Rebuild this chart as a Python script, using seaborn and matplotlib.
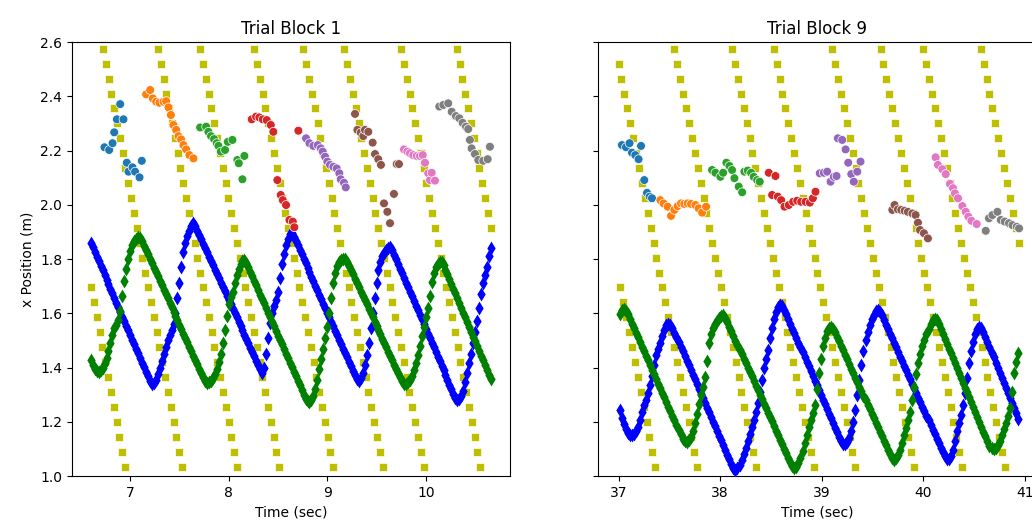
import numpy as np
import pandas as pd
import matplotlib
matplotlib.use("Agg")
import matplotlib.pyplot as plt
from matplotlib.ticker import MultipleLocator
import seaborn as sns

# ---------------- data ----------------
titles = ["Trial Block 1", "Trial Block 9"]

# hand (blue) and partner (green) positions, one value per sample
b1_start, b9_start = 6.60, 37.01
sample_step = 0.02

b1_blue = [1.860, 1.843, 1.826, 1.809, 1.792, 1.775, 1.758, 1.741, 1.724, 1.707,
           1.690, 1.673, 1.656, 1.639, 1.622, 1.605, 1.588, 1.571, 1.554, 1.537,
           1.520, 1.503, 1.486, 1.469, 1.452, 1.435, 1.418, 1.401, 1.384, 1.367, 1.350,
           1.338, 1.342, 1.355, 1.375, 1.40, 1.425, 1.45, 1.475, 1.50, 1.52, 1.54,
           1.56, 1.60, 1.655, 1.71, 1.77, 1.825, 1.86, 1.885, 1.905, 1.922, 1.932,
           1.92, 1.905, 1.889, 1.873, 1.857, 1.841, 1.825, 1.809, 1.793, 1.777, 1.761,
           1.745, 1.729, 1.713, 1.697, 1.681, 1.665, 1.649, 1.633, 1.617, 1.601, 1.585,
           1.569, 1.553, 1.537, 1.521, 1.505, 1.489, 1.473, 1.457, 1.441, 1.425, 1.409, 1.393,
           1.38, 1.40, 1.45, 1.51, 1.565, 1.60, 1.625, 1.65, 1.68, 1.73, 1.78, 1.82,
           1.85, 1.875, 1.892, 1.895,
           1.882, 1.866, 1.85, 1.833, 1.817, 1.80, 1.784, 1.767, 1.751, 1.734, 1.718,
           1.701, 1.685, 1.668, 1.652, 1.635, 1.619, 1.602, 1.586, 1.569, 1.553, 1.536,
           1.52, 1.503, 1.487, 1.47, 1.454, 1.437, 1.421, 1.404, 1.388, 1.371, 1.356, 1.35,
           1.36, 1.38, 1.41, 1.445, 1.49, 1.545, 1.60, 1.655, 1.71, 1.76, 1.79, 1.81,
           1.823, 1.833, 1.841, 1.845,
           1.833, 1.816, 1.799, 1.782, 1.765, 1.748, 1.731, 1.713, 1.696, 1.679, 1.662,
           1.645, 1.628, 1.611, 1.594, 1.577, 1.56, 1.542, 1.525, 1.508, 1.491, 1.474,
           1.457, 1.44, 1.423, 1.406, 1.389, 1.371, 1.354, 1.337, 1.32, 1.303, 1.288, 1.282,
           1.285, 1.295, 1.315, 1.345, 1.38, 1.415, 1.45, 1.49, 1.53, 1.57, 1.62, 1.67,
           1.71, 1.74, 1.77, 1.81, 1.84]
b1_green = [1.428, 1.41, 1.396, 1.388,
            1.385, 1.39, 1.40, 1.415, 1.435, 1.46, 1.49, 1.52, 1.545, 1.555, 1.575,
            1.61, 1.665, 1.72, 1.765, 1.80, 1.83, 1.85, 1.865, 1.875, 1.88, 1.876,
            1.865, 1.849, 1.833, 1.817, 1.80, 1.784, 1.768, 1.752, 1.736, 1.72, 1.703,
            1.687, 1.671, 1.655, 1.639, 1.622, 1.606, 1.59, 1.574, 1.558, 1.541, 1.525,
            1.509, 1.493, 1.477, 1.46, 1.444, 1.428, 1.412, 1.396, 1.38, 1.364, 1.35,
            1.342, 1.345,
            1.35, 1.36, 1.375, 1.395, 1.42, 1.45, 1.49, 1.54, 1.59, 1.635, 1.66, 1.68,
            1.71, 1.74, 1.765, 1.783, 1.793, 1.795,
            1.785, 1.77, 1.753, 1.736, 1.72, 1.703, 1.686, 1.669, 1.653, 1.636, 1.619,
            1.602, 1.586, 1.569, 1.552, 1.535, 1.518, 1.502, 1.485, 1.468, 1.451, 1.434,
            1.418, 1.401, 1.384, 1.367, 1.35, 1.334, 1.317, 1.30, 1.285, 1.275, 1.272,
            1.28, 1.295, 1.32, 1.355, 1.395, 1.43, 1.47, 1.51, 1.55, 1.60, 1.655, 1.71,
            1.75, 1.775, 1.788, 1.795, 1.80, 1.80,
            1.79, 1.775, 1.759, 1.743, 1.727, 1.712, 1.696, 1.68, 1.664, 1.648, 1.633,
            1.617, 1.601, 1.585, 1.569, 1.554, 1.538, 1.522, 1.506, 1.49, 1.475, 1.459,
            1.443, 1.427, 1.411, 1.396, 1.38, 1.364, 1.35, 1.34, 1.34,
            1.345, 1.355, 1.37, 1.39, 1.415, 1.445, 1.48, 1.515, 1.55, 1.585, 1.62, 1.665,
            1.715, 1.75, 1.77, 1.782, 1.788, 1.79,
            1.778, 1.761, 1.743, 1.726, 1.708, 1.69, 1.673, 1.655, 1.638, 1.62, 1.602,
            1.585, 1.567, 1.55, 1.532, 1.514, 1.497, 1.479, 1.462, 1.444, 1.426, 1.409,
            1.391, 1.374, 1.356]
b9_blue = [1.243, 1.215, 1.19, 1.172, 1.16, 1.153,
           1.151, 1.155, 1.165, 1.18, 1.205, 1.235, 1.26, 1.28, 1.305, 1.335, 1.37,
           1.41, 1.445, 1.47, 1.49, 1.515, 1.54, 1.555, 1.562, 1.558,
           1.546, 1.529, 1.512, 1.494, 1.477, 1.46, 1.442, 1.425, 1.408, 1.391, 1.373,
           1.356, 1.339, 1.321, 1.304, 1.287, 1.27, 1.252, 1.235, 1.218, 1.20, 1.183,
           1.166, 1.149, 1.131, 1.114, 1.097, 1.079, 1.062, 1.045, 1.03, 1.024, 1.028,
           1.04, 1.058, 1.08, 1.105, 1.13, 1.155, 1.18, 1.206, 1.235, 1.27, 1.31, 1.355,
           1.40, 1.43, 1.465, 1.51, 1.545, 1.578, 1.605, 1.622, 1.63, 1.626,
           1.613, 1.596, 1.578, 1.561, 1.543, 1.526, 1.509, 1.491, 1.474, 1.456, 1.439,
           1.422, 1.404, 1.387, 1.369, 1.352, 1.335, 1.317, 1.30, 1.282, 1.265, 1.248,
           1.23, 1.213, 1.195, 1.178, 1.161, 1.143, 1.128, 1.118,
           1.118, 1.125, 1.14, 1.165, 1.20, 1.245, 1.30, 1.355, 1.41, 1.46, 1.50, 1.53,
           1.555, 1.578, 1.595, 1.607, 1.612, 1.605,
           1.592, 1.575, 1.558, 1.541, 1.525, 1.508, 1.491, 1.474, 1.457, 1.44, 1.424,
           1.407, 1.39, 1.373, 1.356, 1.34, 1.323, 1.306, 1.289, 1.272, 1.255, 1.239,
           1.222, 1.205, 1.188, 1.171, 1.155, 1.138, 1.121, 1.104, 1.088, 1.072, 1.062,
           1.062, 1.072, 1.095, 1.13, 1.165, 1.195, 1.225, 1.26, 1.305, 1.36, 1.415,
           1.46, 1.495, 1.522, 1.542, 1.55, 1.545,
           1.53, 1.511, 1.493, 1.474, 1.455, 1.437, 1.418, 1.399, 1.381, 1.362, 1.343,
           1.325, 1.306, 1.287, 1.269, 1.25, 1.231, 1.212]
b9_green = [1.596, 1.612, 1.617, 1.61,
            1.596, 1.579, 1.562, 1.545, 1.528, 1.511, 1.494, 1.477, 1.46, 1.443, 1.426,
            1.409, 1.392, 1.375, 1.358, 1.341, 1.324, 1.307, 1.29, 1.273, 1.256, 1.239,
            1.222, 1.205, 1.188, 1.171, 1.154, 1.138, 1.128, 1.127,
            1.132, 1.145, 1.165, 1.195, 1.23, 1.265, 1.30, 1.33, 1.365, 1.425, 1.49,
            1.525, 1.545, 1.56, 1.572, 1.583, 1.591, 1.593,
            1.582, 1.566, 1.549, 1.533, 1.516, 1.499, 1.483, 1.466, 1.45, 1.433, 1.416,
            1.40, 1.383, 1.367, 1.35, 1.333, 1.317, 1.30, 1.284, 1.267, 1.25, 1.234,
            1.217, 1.201, 1.184, 1.167, 1.151, 1.134, 1.118, 1.101, 1.084, 1.068, 1.052,
            1.038, 1.031, 1.035,
            1.048, 1.068, 1.092, 1.12, 1.15, 1.18, 1.205, 1.232, 1.26, 1.32, 1.38, 1.43,
            1.478, 1.51, 1.535, 1.547, 1.55, 1.543,
            1.53, 1.513, 1.496, 1.48, 1.463, 1.446, 1.43, 1.413, 1.396, 1.38, 1.363,
            1.346, 1.33, 1.313, 1.296, 1.28, 1.263, 1.246, 1.23, 1.213, 1.196, 1.18,
            1.163, 1.146, 1.13, 1.113, 1.096, 1.08, 1.066, 1.06, 1.065,
            1.078, 1.097, 1.122, 1.15, 1.178, 1.206, 1.237, 1.28, 1.33, 1.375, 1.415,
            1.45, 1.478, 1.502, 1.522, 1.542, 1.562, 1.576, 1.58, 1.574,
            1.56, 1.542, 1.524, 1.506, 1.488, 1.47, 1.452, 1.434, 1.416, 1.398, 1.38,
            1.362, 1.344, 1.326, 1.308, 1.29, 1.272, 1.254, 1.236, 1.218, 1.20, 1.182,
            1.164, 1.146, 1.128, 1.112, 1.102, 1.10,
            1.105, 1.115, 1.13, 1.15, 1.175, 1.195, 1.22, 1.25, 1.31, 1.38, 1.42, 1.455]

# moving targets (yellow squares): the rows they pass through, and the
# time each target passed the top row
target_levels = [2.575, 2.52, 2.465, 2.41, 2.355, 2.30, 2.245, 2.19, 2.135,
                 2.08, 2.025, 1.97, 1.915, 1.86, 1.805, 1.75, 1.695, 1.64,
                 1.585, 1.53, 1.475, 1.42, 1.365, 1.31, 1.255, 1.20, 1.145,
                 1.09, 1.035]
target_step = 0.0287
b1_onsets = [6.144, 6.723, 7.281, 7.710, 8.258, 8.758, 9.174, 9.749, 10.314]
b9_onsets = [36.558, 36.971, 37.549, 38.117, 38.527, 39.102, 39.578, 39.999, 40.564]
b1_window = (6.59, 10.66)
b9_window = (36.995, 40.94)

# contact points (circles), one list per target
b1_hit_t = [
    [6.739, 6.787, 6.821, 6.838, 6.865, 6.932, 6.899, 6.966, 6.983, 7.024, 7.05, 7.095, 7.118],
    [7.162, 7.203, 7.230, 7.264, 7.297, 7.338, 7.365, 7.389, 7.413, 7.439, 7.467, 7.490, 7.517, 7.541, 7.568, 7.601, 7.642],
    [7.710, 7.771, 7.794, 7.821, 7.852, 7.879, 7.896, 7.920, 7.963, 7.991, 8.038, 8.088, 8.159, 8.102, 8.139],
    [8.234, 8.278, 8.311, 8.346, 8.386, 8.427, 8.453, 8.494, 8.528, 8.549, 8.582, 8.616, 8.650, 8.666, 8.707],
    [8.785, 8.819, 8.859, 8.904, 8.934, 8.954, 8.978, 9.001, 9.028, 9.062, 9.096, 9.123, 9.137, 9.170, 9.188],
    [9.282, 9.306, 9.340, 9.366, 9.383, 9.417, 9.461, 9.485, 9.518, 9.545, 9.576, 9.610, 9.637, 9.677, 9.705, 9.728],
    [9.779, 9.813, 9.840, 9.873, 9.908, 9.941, 9.969, 9.992, 10.025, 10.043, 10.060, 10.093],
    [10.137, 10.178, 10.228, 10.263, 10.306, 10.340, 10.374, 10.408, 10.431, 10.448, 10.465, 10.499, 10.533, 10.583, 10.628, 10.651],
]
b1_hit_x = [
    [2.212, 2.202, 2.227, 2.267, 2.315, 2.315, 2.371, 2.155, 2.122, 2.138, 2.122, 2.101, 2.162],
    [2.407, 2.423, 2.392, 2.380, 2.376, 2.380, 2.382, 2.359, 2.331, 2.294, 2.276, 2.253, 2.241, 2.220, 2.204, 2.183, 2.171],
    [2.285, 2.288, 2.269, 2.253, 2.242, 2.227, 2.217, 2.196, 2.202, 2.232, 2.239, 2.165, 2.180, 2.153, 2.094],
    [2.315, 2.325, 2.322, 2.315, 2.312, 2.294, 2.269, 2.091, 2.036, 2.017, 1.999, 1.944, 1.938, 1.917, 2.273],
    [2.245, 2.227, 2.217, 2.220, 2.208, 2.196, 2.177, 2.159, 2.147, 2.140, 2.134, 2.116, 2.094, 2.081, 2.064],
    [2.335, 2.276, 2.266, 2.253, 2.276, 2.269, 2.229, 2.187, 2.168, 2.147, 2.005, 1.974, 1.932, 2.040, 2.150, 2.150],
    [2.204, 2.196, 2.190, 2.183, 2.180, 2.180, 2.183, 2.155, 2.116, 2.091, 2.118, 2.089],
    [2.362, 2.368, 2.374, 2.343, 2.327, 2.319, 2.302, 2.288, 2.279, 2.239, 2.208, 2.187, 2.165, 2.162, 2.168, 2.214],
]
b9_hit_t = [
    [37.033, 37.073, 37.108, 37.132, 37.165, 37.197, 37.221, 37.253, 37.280, 37.306, 37.329],
    [37.411, 37.443, 37.483, 37.516, 37.549, 37.581, 37.615, 37.647, 37.680, 37.713, 37.756, 37.788, 37.822, 37.861],
    [37.920, 37.953, 38.002, 38.029, 38.061, 38.091, 38.117, 38.140, 38.182, 38.216, 38.238, 38.271, 38.304, 38.330, 38.364, 38.389],
    [38.478, 38.544, 38.511, 38.567, 38.600, 38.633, 38.675, 38.718, 38.758, 38.797, 38.840, 38.882, 38.912, 38.938],
    [38.980, 39.020, 39.053, 39.086, 39.118, 39.145, 39.158, 39.201, 39.234, 39.260, 39.290, 39.315, 39.349, 39.381],
    [39.694, 39.716, 39.749, 39.782, 39.815, 39.847, 39.891, 39.923, 39.946, 39.966, 40.005, 40.044],
    [40.120, 40.143, 40.186, 40.219, 40.261, 40.291, 40.310, 40.340, 40.383, 40.416, 40.442, 40.472, 40.524],
    [40.613, 40.645, 40.679, 40.728, 40.761, 40.800, 40.842, 40.876, 40.918, 40.941],
]
b9_hit_x = [
    [2.220, 2.212, 2.227, 2.192, 2.183, 2.168, 2.217, 2.091, 2.044, 2.030, 2.024],
    [2.017, 2.005, 1.993, 1.959, 1.981, 1.995, 2.005, 2.003, 2.005, 2.003, 1.999, 1.987, 1.971, 1.993],
    [2.128, 2.118, 2.103, 2.118, 2.155, 2.143, 2.128, 2.098, 2.067, 2.046, 2.122, 2.126, 2.118, 2.103, 2.091, 2.085],
    [2.118, 2.106, 2.036, 2.030, 2.017, 1.993, 1.999, 2.011, 2.015, 2.011, 2.011, 2.008, 2.024, 2.048],
    [2.116, 2.118, 2.122, 2.085, 2.103, 2.106, 2.245, 2.239, 2.204, 2.155, 2.113, 2.085, 2.122, 2.159],
    [1.981, 1.999, 1.983, 1.981, 1.978, 1.974, 1.968, 1.962, 1.934, 1.907, 1.895, 1.876],
    [2.175, 2.147, 2.131, 2.113, 2.077, 2.061, 2.042, 2.024, 1.995, 1.974, 1.956, 1.941, 1.929],
    [1.904, 1.950, 1.962, 1.974, 1.944, 1.938, 1.932, 1.925, 1.919, 1.913],
]

# ---------------- frames ----------------
def series_frame(start, values):
    t = start + sample_step * np.arange(len(values))
    return pd.DataFrame({"t": t, "x": values})

def target_frame(onsets, window):
    rows = []
    for on in onsets:
        for k, lev in enumerate(target_levels):
            tt = on + k * target_step
            if window[0] <= tt <= window[1]:
                rows.append((tt, lev))
    return pd.DataFrame(rows, columns=["t", "x"])

def hit_frame(ts, xs):
    rows = []
    for i, (tl, xl) in enumerate(zip(ts, xs)):
        for tt, xx in zip(tl, xl):
            rows.append((tt, xx, f"target {i + 1}"))
    return pd.DataFrame(rows, columns=["t", "x", "target"])

blocks = [
    dict(blue=series_frame(b1_start, b1_blue), green=series_frame(b1_start, b1_green),
         targets=target_frame(b1_onsets, b1_window), hits=hit_frame(b1_hit_t, b1_hit_x),
         xlim=(6.41, 10.855)),
    dict(blue=series_frame(b9_start, b9_blue), green=series_frame(b9_start, b9_green),
         targets=target_frame(b9_onsets, b9_window), hits=hit_frame(b9_hit_t, b9_hit_x),
         xlim=(36.80, 41.11)),
]

# ---------------- plot ----------------
fig = plt.figure(figsize=(10.32, 5.25), dpi=100)
ax1 = fig.add_axes([0.0698, 0.0933, 0.4244, 0.8267])
ax2 = fig.add_axes([0.5797, 0.0933, 0.4244, 0.8267], sharey=ax1)
hue_order = [f"target {i + 1}" for i in range(8)]

for ax, blk, title in zip([ax1, ax2], blocks, titles):
    sns.scatterplot(data=blk["targets"], x="t", y="x", color="y", marker="s",
                    s=40, linewidth=0.5, ax=ax, zorder=2)
    sns.scatterplot(data=blk["blue"], x="t", y="x", color="b", marker="d",
                    s=50, linewidth=0, ax=ax, zorder=3)
    sns.scatterplot(data=blk["green"], x="t", y="x", color="g", marker="d",
                    s=50, linewidth=0, ax=ax, zorder=4)
    sns.scatterplot(data=blk["hits"], x="t", y="x", hue="target", hue_order=hue_order,
                    palette="tab10", legend=False, s=40, linewidth=0.5, ax=ax, zorder=5)
    ax.set_title(title)
    ax.set_xlabel("Time (sec)")
    ax.set_xlim(*blk["xlim"])
    ax.xaxis.set_major_locator(MultipleLocator(1))

ax1.set_ylim(1.0, 2.6)
ax1.set_ylabel("x Position (m)")
ax2.set_ylabel("")
ax2.tick_params(labelleft=False)

fig.savefig("out.png", dpi=100)
